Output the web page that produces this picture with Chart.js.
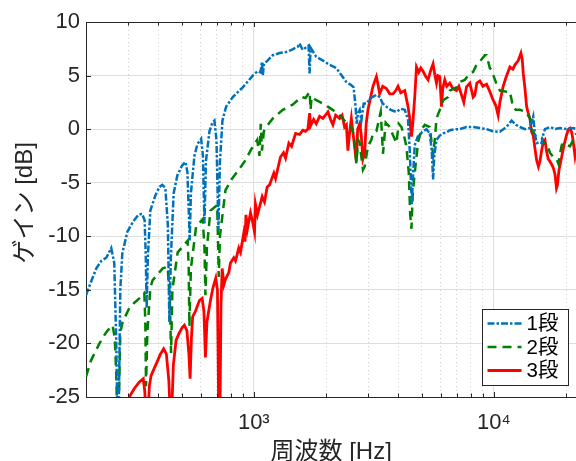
<!DOCTYPE html>
<html><head><meta charset="utf-8">
<script src="https://cdn.jsdelivr.net/npm/chart.js@4.4.0/dist/chart.umd.min.js"></script>
<style>
html,body{margin:0;padding:0;background:#fff;overflow:hidden;}
#wrap{position:relative;width:580px;height:461px;}
</style></head><body>
<div id="wrap"><canvas id="c" width="580" height="461"></canvas></div>
<script>
// ---- data (frequency [Hz], gain [dB]) ----
const seriesNames = ['1段', '2段', '3段'];

const series1 = [
 [200,-15.5],[210.3,-14.2],[220.8,-13.0],[231.6,-12.3],[242.9,-12.0],[254.8,-11.1],[262.3,-12.5],[267.4,-20],[270,-26],[273.9,-26],
 [277.9,-15],[283.3,-11.6],[297.2,-9.6],[314.8,-8.6],[330.4,-8.0],[342.3,-7.9],[351,-8.5],[355,-12],[357.8,-16.7],[361.9,-12],
 [370.7,-7.6],[388.9,-6.2],[404.2,-5.4],[416,-5.2],[428.2,-5.5],[438.6,-9],[444.9,-18],[451.4,-12],[463.6,-6.0],[480.5,-4.3],
 [502.6,-3.4],[518.9,-3.05],[528.9,-4],[536.6,-8],[540.8,-10.4],[547,-6],[565.7,-2.5],[582.3,-1.4],[603.4,-0.9],[613.9,-2.5],
 [622.8,-8.8],[631.9,-3],[653.5,-0.2],[672.6,0.6],[685.6,0.8],[699,-1],[712.5,-9.4],[722.8,-3],[740.3,0.8],[767.2,2.1],
 [817.3,3.0],[899.7,3.9],[990.4,5.0],[1036,5.4],[1066,5.3],[1082,6.3],[1090,5.0],[1103,6.1],[1141,6.4],[1200,6.9],
 [1280,7.1],[1365,7.2],[1437,7.4],[1526,7.7],[1551,8.0],[1597,7.4],[1643,7.6],[1691,7.8],[1708,5.2],[1724,7.6],
 [1821,6.75],[1941,6.4],[2070,6.0],[2208,5.7],[2323,5.0],[2430,4.4],[2549,4.1],[2606,3.9],[2657,2.0],[2683,0.5],
 [2716,1.5],[2761,1.8],[2806,0.8],[2869,2.4],[2944,2.4],[3068,2.9],[3241,3.2],[3345,3.0],[3443,2.4],[3568,2.1],
 [3719,1.8],[3928,1.6],[4093,1.9],[4254,1.8],[4391,0.9],[4463,-2],[4549,-7],[4615,-4],[4682,-1.5],[4819,-0.7],
 [5008,-0.3],[5239,0.0],[5408,-0.4],[5513,-2],[5582,-4.7],[5647,-2.5],[5768,-1.0],[5953,-0.6],[6145,-0.4],[6349,-0.3],
 [6553,-0.1],[6988,0.0],[7213,0.0],[7692,0.2],[8199,0.2],[8743,0.1],[9324,0.0],[9904,-0.2],[10593,-0.25],[11298,0.2],
 [11854,0.8],[12355,0.4],[12838,0.2],[13474,0.0],[14134,0.1],[14588,1.2],[14829,-0.5],[15073,-1.3],[15557,-1.2],[15814,-1.3],
 [16060,-0.5],[16325,0.0],[17125,0.2],[17971,0.0],[18855,0.1],[20113,0.0],[21423,0.1],[22050,0.0]
];

const series2 = [
 [200,-23.1],[209.7,-21.6],[227.6,-20.0],[238.9,-19.2],[246,-18.8],[258.1,-18.3],[263.6,-19.5],[267.4,-23],[270,-27],[273.9,-26],
 [277.9,-19],[284.2,-18.0],[302.9,-16.7],[318,-16.2],[333.6,-15.8],[349.9,-15.3],[353.3,-18],[355.7,-24.0],[360.2,-19],[370.7,-14.8],
 [379,-14.1],[396.5,-13.6],[417.3,-13.0],[437.7,-12.85],[447.1,-16],[452.3,-20.9],[458,-15],[481.8,-11.5],[504,-11.0],[530.5,-10.4],
 [535.6,-13],[539.2,-18.4],[547,-13],[575.1,-9.1],[612.7,-8.4],[622.8,-11],[628.8,-15.5],[638,-11],[659.8,-7.6],[703.7,-7.1],
 [709.1,-10],[714.5,-13.8],[722.8,-10],[761.9,-5.7],[812.6,-4.6],[865.8,-3.8],[923.4,-2.9],[968.7,-2.0],[1033,-1.0],[1056,-2.5],
 [1069,0.5],[1082,-2.0],[1101,-0.2],[1126,0.2],[1200,1.0],[1321,1.8],[1455,2.3],[1577,3.0],[1643,2.9],[1708,3.5],
 [1724,1.8],[1741,3.0],[1821,2.7],[1880,2.55],[2004,2.2],[2130,1.8],[2278,1.3],[2430,0.6],[2549,0.2],[2606,-0.5],
 [2675,-3.2],[2721,-1.0],[2761,-1.3],[2849,-3.8],[2896,-3.5],[2989,-1.6],[3088,-1.0],[3136,-0.4],[3241,-0.2],[3345,1.2],
 [3378,1.6],[3453,-2.3],[3543,0.6],[3683,0.2],[3790,-0.5],[3928,-1.3],[4016,0.5],[4121,0.2],[4213,-0.5],[4321,-1.6],
 [4419,-4],[4483,-8],[4536,-9.3],[4593,-6],[4682,-4.1],[4833,-1.2],[5008,0.0],[5154,0.4],[5408,0.2],[5582,-2.4],
 [5674,-1.0],[5768,1.0],[5953,1.8],[6145,2.7],[6448,3.0],[6553,3.6],[6988,3.9],[7213,4.4],[7568,4.6],[7941,5.2],
 [8199,5.35],[8470,6.0],[8743,6.3],[9173,6.9],[9324,6.9],[9623,5.7],[9781,5.5],[10263,4.2],[10593,3.6],[11298,3.5],
 [11663,3.5],[12039,2.0],[12355,1.8],[12838,1.8],[13256,1.7],[13694,1.5],[14134,1.0],[14367,0.0],[15073,-0.8],[15814,-0.8],
 [16060,-1.3],[16595,-1.3],[17125,-2.2],[17680,-2.6],[18265,-2.8],[18550,-3.2],[19163,-1.5],[19461,-1.3],[20755,-1.6],[22050,-0.4]
];

const series3 = [
 [294.3,-26.5],[302.9,-25.0],[318,-24.2],[333.6,-23.6],[346.5,-23.3],[351.6,-24.5],[355,-27],[361.9,-27],[367.2,-24],[373.3,-23.0],
 [385.2,-22.3],[397.7,-21.6],[408.1,-21.0],[421.3,-20.5],[432.4,-21],[442.8,-23.5],[449.3,-27],[455.8,-26],[462.4,-22],[474.6,-19.7],
 [489.8,-19],[504,-18.5],[513.9,-18.3],[526.4,-18.8],[536.6,-21],[542.9,-23.3],[549.7,-19.5],[556.5,-17.5],[571.3,-17.0],[593.6,-16.0],
 [609.2,-15.8],[619.8,-17],[628.8,-21.3],[638,-18],[659.8,-16.0],[675.9,-14.8],[694.3,-13.9],[705.7,-15],[714.5,-27],[722.8,-27],
 [729.8,-16.5],[738.3,-13.0],[751.1,-14.5],[761.9,-14.0],[786.5,-13.4],[799.4,-12.5],[825.2,-12.0],[838.8,-12.3],[865.8,-11.1],[880.1,-11.5],
 [908.4,-9.7],[919,-10.5],[927.8,-8.0],[941.2,-9.3],[968.7,-7.8],[987.6,-8.6],[1007,-9.6],[1016,-7.0],[1036,-8.0],[1084,-6.3],
 [1108,-6.8],[1137,-5.4],[1163,-5.2],[1212,-4.1],[1232,-4.6],[1292,-2.6],[1330,-2.2],[1356,-2.7],[1400,-1.3],[1437,-1.6],
 [1493,-0.4],[1551,-0.5],[1601,-0.1],[1643,-0.2],[1680,0.0],[1708,1.5],[1724,0.3],[1775,0.9],[1821,0.5],[1880,1.2],
 [1941,1.0],[2004,1.4],[2036,1.6],[2089,0.9],[2136,0.4],[2192,1.3],[2278,1.0],[2333,1.3],[2389,0.2],[2430,0.4],
 [2466,-2.0],[2507,-0.3],[2549,1.0],[2594,-0.5],[2675,-3.0],[2708,0.0],[2761,0.5],[2801,-0.5],[2849,-2.8],[2896,-2.3],
 [2938,0.5],[2989,1.8],[3068,3.0],[3136,4.0],[3241,4.9],[3282,4.3],[3345,3.3],[3443,4.0],[3568,3.8],[3683,3.3],
 [3801,3.3],[3901,3.6],[3988,4.0],[4093,3.4],[4254,3.6],[4391,2.1],[4463,1.0],[4536,-0.7],[4593,0.5],[4682,3.0],
 [4760,5.8],[4866,5.3],[4960,5.7],[5071,5.4],[5204,4.9],[5320,4.6],[5460,5.5],[5582,6.1],[5674,5.1],[5768,4.3],
 [5840,5.0],[5953,4.9],[6051,2.1],[6127,3.8],[6246,4.6],[6367,4.0],[6553,4.3],[6745,3.8],[6988,3.6],[7145,4.0],
 [7332,3.2],[7496,2.5],[7692,3.95],[7941,4.3],[8199,3.0],[8333,3.2],[8494,4.3],[8743,4.5],[8999,4.0],[9324,4.2],
 [9623,3.5],[9933,2.7],[10193,2.2],[10421,1.3],[10593,2.5],[10934,4.0],[11221,4.8],[11663,5.8],[12006,5.6],[12238,6.0],
 [12635,6.4],[12967,7.1],[13131,6.5],[13256,5.2],[13474,3.8],[13694,2.1],[13906,1.5],[14134,1.0],[14341,-0.2],[14588,-0.6],
 [14829,-1.8],[15073,-2.9],[15337,-3.5],[15557,-3.0],[15814,-2.0],[16060,-1.2],[16325,-1.0],[16558,-2.0],[16849,-2.8],[17125,-3.0],
 [17408,-3.3],[17680,-3.6],[17971,-4.2],[18232,-5.5],[18406,-5.2],[18674,-3.8],[19163,-2.6],[19591,-1.5],[20113,-0.5],[20458,0.0],
 [20755,0.1],[21098,-0.3],[21360,-1.0],[21777,-2.5],[22050,-1.8]
];

const xTickValues = [200,300,400,500,600,700,800,900,1000,2000,3000,4000,5000,6000,7000,8000,9000,10000,20000];
const xMajorTicks = [1000, 10000];
const xTickLabels = ['10³', '10⁴'];
const yTickValues = [-25,-20,-15,-10,-5,0,5,10];
const xRange = [200, 22050];
const yRange = [-25, 10];
const xTitle = '周波数 [Hz]';
const yTitle = 'ゲイン [dB]';

// ---- styling ----
const FONT = "'Liberation Sans', 'Noto Sans CJK JP', sans-serif";
const TEXT = '#262626';
const AXIS = '#262626';
const styles = [
  {color:'#0072BD', width:2.5, dash:[7,2,2.5,2]},
  {color:'#008000', width:2.5, dash:[9,6]},
  {color:'#FF0000', width:2.8, dash:[]}
];
const toPts = s => s.map(p => ({x:p[0], y:p[1]}));
const allSeries = [series1, series2, series3];

const frame = {
  id: 'frame',
  afterDraw(chart) {
    const {ctx, chartArea: a, scales} = chart;
    const xs = scales.x, ys = scales.y;
    ctx.save();
    ctx.strokeStyle = AXIS; ctx.lineWidth = 1; ctx.setLineDash([]);
    ctx.beginPath();
    ctx.moveTo(a.left, a.top + 0.5); ctx.lineTo(a.right + 2, a.top + 0.5);
    // tick marks (inward)
    xTickValues.forEach(v => {
      const px = Math.round(xs.getPixelForValue(v)) + 0.5;
      const L = xMajorTicks.includes(v) ? 5 : 3.5;
      ctx.moveTo(px, a.bottom); ctx.lineTo(px, a.bottom - L);
      ctx.moveTo(px, a.top); ctx.lineTo(px, a.top + L);
    });
    yTickValues.forEach(v => {
      const py = Math.round(ys.getPixelForValue(v)) + 0.5;
      ctx.moveTo(a.left, py); ctx.lineTo(a.left + 5, py);
    });
    ctx.stroke();

    // legend inside the axes (bottom right)
    const ds = chart.data.datasets;
    const w = 86, rowH = 23.5, h = 76;
    const lx = Math.round(a.right - 8 - w) + 0.5, ly = Math.round(a.bottom - 12 - h) + 0.5;
    ctx.fillStyle = '#fff';
    ctx.fillRect(lx, ly, w, h);
    ctx.strokeStyle = '#262626'; ctx.lineWidth = 1;
    ctx.strokeRect(lx, ly, w, h);
    ctx.font = '20.5px ' + FONT;
    ctx.textBaseline = 'middle'; ctx.textAlign = 'left';
    ds.forEach((d, i) => {
      const y = ly + 14 + i * rowH;
      ctx.beginPath();
      ctx.strokeStyle = d.borderColor; ctx.lineWidth = d.borderWidth;
      ctx.setLineDash(d.borderDash || []);
      ctx.moveTo(lx + 5, y); ctx.lineTo(lx + 39, y);
      ctx.stroke();
      ctx.setLineDash([]);
      ctx.fillStyle = '#000';
      ctx.fillText(d.label, lx + 44, y + 1);
    });
    ctx.restore();
  }
};

new Chart(document.getElementById('c'), {
  type: 'line',
  data: {
    datasets: allSeries.map((s, i) => ({
      label: seriesNames[i],
      data: toPts(s),
      borderColor: styles[i].color,
      borderWidth: styles[i].width,
      borderDash: styles[i].dash,
      pointRadius: 0,
      tension: 0,
      fill: false,
      clip: 0
    }))
  },
  options: {
    responsive: false,
    animation: false,
    events: [],
    layout: {padding: {left: 0, top: 22, right: 3.7, bottom: 0}},
    plugins: {legend: {display: false}, tooltip: {enabled: false}},
    scales: {
      x: {
        type: 'logarithmic',
        min: xRange[0], max: xRange[1],
        afterBuildTicks: s => { s.ticks = xTickValues.map(v => ({value: v, major: xMajorTicks.includes(v)})); },
        afterFit: s => { s.height = 64; },
        ticks: {
          autoSkip: false, maxRotation: 0, minRotation: 0, padding: 13,
          color: TEXT, font: {family: FONT, size: 22},
          callback: v => { const k = xMajorTicks.indexOf(v); return k >= 0 ? xTickLabels[k] : ''; }
        },
        grid: {
          drawTicks: false,
          lineWidth: 1,
          color: c => (c.tick && xMajorTicks.includes(c.tick.value)) ? '#dedede' : '#cfcfcf'
        },
        border: {
          display: true, color: AXIS, width: 1,
          dash: c => (c.tick && !xMajorTicks.includes(c.tick.value)) ? [1, 3] : []
        },
        title: {display: true, text: xTitle, color: TEXT,
          font: {family: FONT, size: 24, lineHeight: 1}, padding: {top: 0, bottom: -3}}
      },
      y: {
        type: 'linear',
        min: yRange[0], max: yRange[1],
        afterBuildTicks: s => { s.ticks = yTickValues.map(v => ({value: v})); },
        afterFit: s => { s.width = 86; },
        ticks: {padding: 6, color: TEXT, font: {family: FONT, size: 22}},
        grid: {drawTicks: false, color: '#dedede', lineWidth: 1},
        border: {display: true, color: AXIS, width: 1},
        title: {display: true, text: '\u00a0\u00a0' + yTitle, color: TEXT,
          font: {family: FONT, size: 24, lineHeight: 1}, padding: {top: 13, bottom: 0}}
      }
    }
  },
  plugins: [frame]
});
</script>
</body></html>
